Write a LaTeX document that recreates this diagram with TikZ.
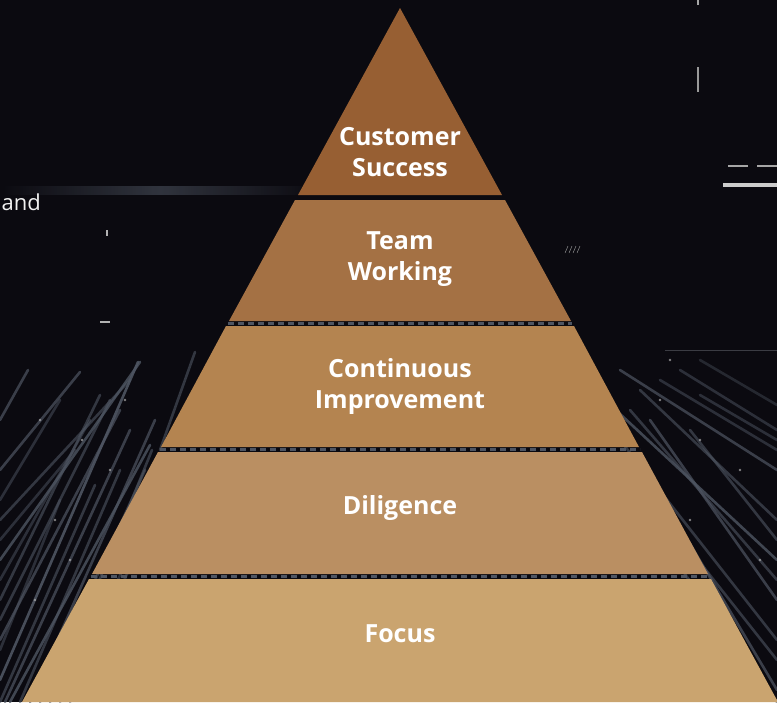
\documentclass[tikz,border=0pt]{standalone}
\usepackage{fontspec}
\setmainfont{Open Sans}
\begin{document}
\begin{tikzpicture}[x=1pt,y=-1pt,
  lbl/.style={text=white,font=\fontsize{25}{31}\selectfont\bfseries,align=center,inner sep=0pt},
  streak/.style={line width=2.6pt,line cap=round},
]
\definecolor{bgc}{HTML}{0B0A10}
\definecolor{c1}{HTML}{975F33}
\definecolor{c2}{HTML}{A47144}
\definecolor{c3}{HTML}{B48450}
\definecolor{c4}{HTML}{BA8F62}
\definecolor{c5}{HTML}{CAA46F}
\definecolor{sk}{HTML}{4E5562}
\useasboundingbox (0,0) rectangle (777,702);
\fill[bgc] (0,0) rectangle (777,702);
\begin{scope}
\clip (0,0) rectangle (777,702);
% faint horizontal glow
\shade[left color=bgc,right color=bgc,middle color=sk!70!bgc,opacity=0.8] (0,186) rectangle (320,194);
% streaks lower left
\foreach \a/\b/\c/\d/\o in {
 0/420/28/370/0.7, 0/470/80/372/0.7, 0/520/130/380/0.6, 0/560/140/362/0.8,
 0/600/100/395/0.6, 0/640/120/410/0.7, 0/680/138/362/0.9, 10/702/150/445/0.8,
 30/702/155/420/0.7, 50/702/152/450/0.6, 0/702/95/485/0.6, 0/650/60/500/0.5,
 70/702/160/500/0.5, 0/540/75/450/0.5, 20/702/120/470/0.6, 160/450/195/352/0.6,
 0/620/110/400/0.6, 5/702/130/430/0.7, 40/702/145/470/0.6, 0/580/90/420/0.5,
 0/500/60/400/0.5, 60/702/170/470/0.5}
  {\draw[streak,sk,opacity=\o] (\a,\b) -- (\c,\d);}
% streaks right
\foreach \a/\b/\c/\d/\o in {
 620/370/777/470/0.7, 640/390/777/520/0.6, 605/400/777/560/0.8, 650/420/777/600/0.7,
 620/440/777/640/0.6, 660/380/777/450/0.5, 700/395/777/440/0.5, 640/460/777/690/0.7,
 610/470/777/702/0.6, 700/360/777/405/0.4, 690/430/777/540/0.6, 630/410/777/580/0.6,
 615/455/777/660/0.6, 680/370/777/430/0.5}
  {\draw[streak,sk,opacity=\o] (\a,\b) -- (\c,\d);}
% dots on streaks
\foreach \x/\y in {40/420, 82/440, 55/520, 110/470, 35/600, 70/560, 125/400, 95/610, 660/400, 700/440, 740/470, 690/520, 720/600, 760/560, 670/360}
  {\fill[gray!60,opacity=0.7] (\x,\y) circle (1.3);}
\draw[sk!70!white,opacity=0.4] (665,350) -- (777,350);
% top right marks
\draw[line width=2pt,gray!80] (698,67) -- (698,92);
\draw[line width=2pt,gray!70] (698,0) -- (698,5);
\draw[line width=2.5pt,gray!70] (728,166) -- (748,166);
\draw[line width=2.5pt,gray!70] (757,166) -- (777,166);
\draw[line width=4pt,gray!40] (723,185) -- (777,185);
\draw[line width=2pt,gray!60] (107,230) -- (107,236);
\draw[line width=1.5pt,gray!60] (100,322) -- (110,322);
\draw[gray!70] (565,253) -- (568,246) (569,253) -- (572,246) (573,253) -- (576,246) (577,253) -- (580,246);
% streak texture visible in gaps
\draw[sk,line width=3pt,dash pattern=on 6pt off 4pt] (228,323.5) -- (572,323.5);
\draw[sk,line width=3pt,dash pattern=on 6pt off 4pt] (160,449.5) -- (640,449.5);
\draw[sk,line width=3pt,dash pattern=on 6pt off 4pt] (91,576.5) -- (709,576.5);
\end{scope}
% pyramid layers (slope 0.545 px/px from apex 400,8)
\fill[c1] (400,8) -- (502,195) -- (298,195) -- cycle;
\fill[c2] (295,200) -- (505,200) -- (571,321) -- (229,321) -- cycle;
\fill[c3] (226,326) -- (574,326) -- (639,447) -- (161,447) -- cycle;
\fill[c4] (158,452) -- (642,452) -- (708,574) -- (92,574) -- cycle;
\fill[c5] (89,579) -- (711,579) -- (778,702) -- (22,702) -- cycle;
% labels
\node[lbl] (l1) at (400,152) {Customer\\Success};
\node[lbl] (l2) at (400,259) {Team\\Working};
\node[lbl] (l3) at (400,386) {Continuous\\Improvement};
\node[lbl] (l4) at (400,508) {Diligence};
\node[lbl] (l5) at (400,634) {Focus};
% clipped text at left
\begin{scope}
\clip (0,0) rectangle (777,702);
\node[anchor=east,text=white!90!gray,font=\fontsize{22}{26}\selectfont,inner sep=0pt] (tl) at (41,202) {and};
\end{scope}
\end{tikzpicture}
\end{document}
